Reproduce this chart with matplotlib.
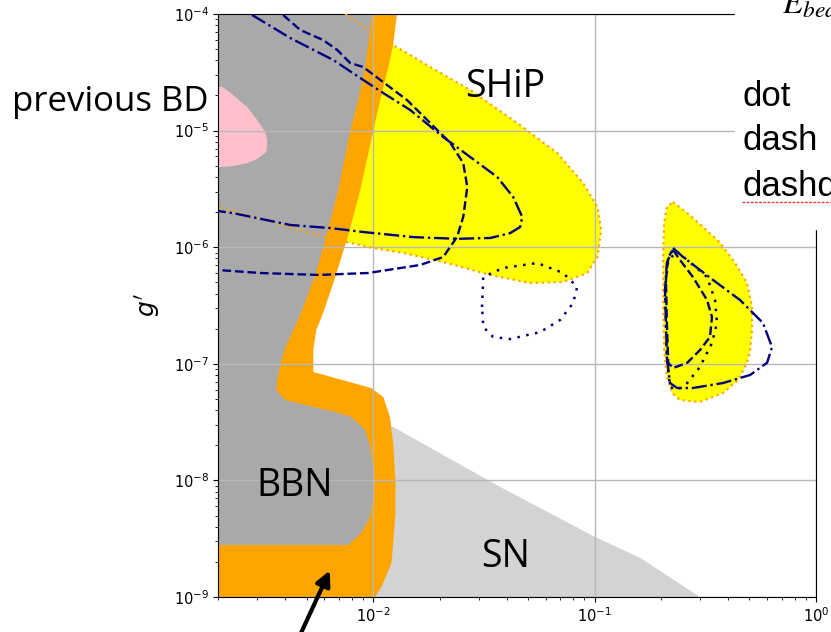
import matplotlib
matplotlib.use("Agg")
import matplotlib.pyplot as plt
from matplotlib.patches import Rectangle, FancyArrowPatch
from matplotlib.lines import Line2D

# axis ranges (mass in GeV, coupling g')
m_lim = (2e-3, 1.0)
g_lim = (1e-9, 1e-4)

# BBN: inner edge of the orange band (= edge of the grey region), top -> bottom
bbn_in_m = [9.90e-3, 9.20e-3, 8.56e-3, 7.87e-3, 6.95e-3, 6.07e-3, 5.47e-3, 4.68e-3,
            4.01e-3, 3.80e-3, 3.65e-3, 3.69e-3, 4.01e-3, 4.93e-3, 6.74e-3, 7.95e-3,
            9.20e-3, 9.69e-3, 1.00e-2, 1.00e-2, 9.69e-3, 8.83e-3, 7.71e-3]
bbn_in_g = [1e-4, 3.51e-5, 1.83e-5, 9.92e-6, 3.09e-6, 1.15e-6, 5.78e-7, 2.62e-7,
            1.39e-7, 9.77e-8, 6.58e-8, 5.73e-8, 4.89e-8, 4.43e-8, 3.86e-8, 3.50e-8,
            2.71e-8, 1.93e-8, 1.23e-8, 7.21e-9, 4.85e-9, 3.54e-9, 2.79e-9]

# BBN: outer edge of the orange band, top -> bottom
bbn_out_m = [1.28e-2, 1.23e-2, 1.17e-2, 1.076e-2, 1.00e-2, 8.74e-3, 7.71e-3, 6.74e-3,
             5.94e-3, 5.53e-3, 5.36e-3, 5.36e-3, 6.46e-3, 9.79e-3, 1.11e-2, 1.19e-2,
             1.23e-2, 1.26e-2, 1.26e-2, 1.21e-2, 1.09e-2, 1.02e-2]
bbn_out_g = [1e-4, 5.42e-5, 3.51e-5, 1.83e-5, 9.92e-6, 3.09e-6, 1.27e-6, 5.55e-7,
             2.73e-7, 1.95e-7, 1.31e-7, 8.51e-8, 7.71e-8, 6.20e-8, 5.19e-8, 3.50e-8,
             2.09e-8, 1.01e-8, 5.25e-9, 1.96e-9, 1.22e-9, 1e-9]

# supernova bound (upper edge)
sn_m = [1.076e-2, 1.23e-2, 3.75e-2, 1.005e-1, 1.61e-1, 2.99e-1, 1.0e-2]
sn_g = [3.10e-8, 2.87e-8, 8.78e-9, 3.27e-9, 2.16e-9, 1e-9, 1e-9]

# previous beam dump region
bd_m = [2e-3, 2.08e-3, 2.33e-3, 2.70e-3, 2.99e-3, 3.25e-3, 3.32e-3, 3.29e-3,
        2.99e-3, 2.70e-3, 2.33e-3, 2.04e-3, 2e-3]
bd_g = [2.37e-5, 2.37e-5, 2.02e-5, 1.59e-5, 1.23e-5, 9.73e-6, 8.31e-6, 6.55e-6,
        5.71e-6, 5.27e-6, 4.97e-6, 4.87e-6, 4.87e-6]

# SHiP sensitivity, main region (open edge, closes along the axes)
ship_m = [7.47e-3, 9.40e-3, 1.23e-2, 1.81e-2, 2.74e-2, 4.47e-2, 6.77e-2, 8.87e-2,
          1.03e-1, 1.07e-1, 1.03e-1, 9.25e-2, 7.21e-2, 5.11e-2, 3.38e-2, 2.16e-2,
          1.37e-2, 1.00e-2, 7.87e-3, 6.07e-3, 2e-3]
ship_g = [1e-4, 7.44e-5, 5.42e-5, 3.51e-5, 2.23e-5, 1.16e-5, 6.43e-6, 3.55e-6,
          2.21e-6, 1.40e-6, 8.24e-7, 6.01e-7, 5.03e-7, 4.93e-7, 5.78e-7, 7.32e-7,
          8.92e-7, 9.84e-7, 1.09e-6, 1.22e-6, 2.21e-6]

# SHiP sensitivity, heavy island
isl_m = [2.26e-1, 2.62e-1, 3.09e-1, 3.69e-1, 4.31e-1, 4.88e-1, 5.14e-1, 5.14e-1,
         5.04e-1, 4.88e-1, 4.45e-1, 3.80e-1, 2.99e-1, 2.43e-1, 2.24e-1, 2.12e-1,
         2.06e-1, 2.04e-1, 2.04e-1, 2.06e-1, 2.12e-1, 2.26e-1]
isl_g = [2.44e-6, 1.96e-6, 1.49e-6, 1.09e-6, 7.32e-7, 4.93e-7, 3.07e-7, 1.95e-7,
         1.31e-7, 1.02e-7, 7.26e-8, 5.62e-8, 4.70e-8, 4.89e-8, 5.62e-8, 7.71e-8,
         1.31e-7, 3.07e-7, 8.24e-7, 1.61e-6, 2.21e-6, 2.44e-6]

# beam energy curves (dashdot / dash / dot)
dd_m = [2.84e-3, 4.22e-3, 6.60e-3, 9.01e-3, 1.11e-2, 1.47e-2, 2.07e-2, 2.74e-2,
        3.63e-2, 4.29e-2, 4.71e-2, 4.61e-2, 4.15e-2, 3.38e-2, 2.39e-2, 1.52e-2,
        9.01e-3, 6.39e-3, 4.22e-3, 2.33e-3, 2e-3]
dd_g = [9.80e-5, 6.22e-5, 4.03e-5, 2.72e-5, 2.10e-5, 1.50e-5, 8.81e-6, 5.94e-6,
        4.00e-6, 2.69e-6, 1.82e-6, 1.49e-6, 1.32e-6, 1.20e-6, 1.18e-6, 1.22e-6,
        1.35e-6, 1.46e-6, 1.55e-6, 1.96e-6, 2.04e-6]

da_m = [3.92e-3, 4.68e-3, 5.94e-3, 6.88e-3, 7.87e-3, 9.01e-3, 1.076e-2, 1.42e-2,
        1.81e-2, 2.23e-2, 2.55e-2, 2.66e-2, 2.55e-2, 2.39e-2, 2.07e-2, 1.63e-2,
        9.49e-3, 5.65e-3, 3.09e-3, 2e-3]
da_g = [9.80e-5, 7.29e-5, 5.98e-5, 4.91e-5, 3.80e-5, 3.51e-5, 2.72e-5, 1.83e-5,
        1.16e-5, 7.83e-6, 5.27e-6, 3.28e-6, 1.82e-6, 1.22e-6, 8.24e-7, 7.04e-7,
        6.01e-7, 5.78e-7, 6.01e-7, 6.37e-7]

do_m = [3.10e-2, 3.14e-2, 3.86e-2, 5.50e-2, 7.21e-2, 8.34e-2, 8.00e-2, 6.99e-2,
        5.68e-2, 4.15e-2, 3.48e-2, 3.14e-2, 3.10e-2]
do_g = [3.07e-7, 5.55e-7, 6.63e-7, 7.32e-7, 6.01e-7, 4.56e-7, 3.32e-7, 2.38e-7,
        1.87e-7, 1.63e-7, 1.70e-7, 2.07e-7, 3.07e-7]

# same three curves around the heavy island
dd2_m = [2.26e-1, 2.51e-1, 3.43e-1, 4.54e-1, 5.76e-1, 6.33e-1, 6.01e-1, 5.04e-1,
         3.80e-1, 2.78e-1, 2.36e-1, 2.19e-1, 2.12e-1, 2.08e-1, 2.12e-1, 2.26e-1]
dd2_g = [9.84e-7, 8.24e-7, 5.23e-7, 3.52e-7, 2.24e-7, 1.39e-7, 1.02e-7, 8.02e-8,
         6.84e-8, 6.20e-8, 6.20e-8, 6.84e-8, 1.14e-7, 4.30e-7, 7.32e-7, 9.84e-7]

da2_m = [2.26e-1, 2.43e-1, 2.78e-1, 3.22e-1, 3.39e-1, 3.32e-1, 2.99e-1, 2.62e-1,
         2.26e-1, 2.15e-1, 2.12e-1, 2.10e-1, 2.15e-1, 2.26e-1]
da2_g = [9.46e-7, 7.77e-7, 5.55e-7, 3.52e-7, 2.52e-7, 1.70e-7, 1.31e-7, 1.02e-7,
         9.20e-8, 1.02e-7, 2.24e-7, 5.23e-7, 8.24e-7, 9.46e-7]

do2_m = [2.36e-1, 2.62e-1, 3.22e-1, 3.50e-1, 3.57e-1, 3.39e-1, 2.99e-1, 2.62e-1,
         2.36e-1, 2.19e-1, 2.12e-1, 2.08e-1, 2.15e-1, 2.36e-1]
do2_g = [9.10e-7, 7.77e-7, 5.55e-7, 3.52e-7, 2.24e-7, 1.51e-7, 9.39e-8, 6.84e-8,
         5.96e-8, 6.33e-8, 1.14e-7, 4.30e-7, 7.77e-7, 9.10e-7]

W, H = 831, 632
fig = plt.figure(figsize=(W / 100, H / 100), dpi=100)
ax = fig.add_axes([218.5 / W, 35 / H, 597.5 / W, 583 / H])
ax.set_xscale("log")
ax.set_yscale("log")

ax.fill(sn_m, sn_g, color="lightgray", lw=0, zorder=0.5)
ax.fill(ship_m + [2e-3], ship_g + [1e-4], color="yellow", lw=0, zorder=0.8)
ax.fill(isl_m, isl_g, color="yellow", lw=0, zorder=0.8)
ax.fill([2e-3] + bbn_out_m + [2e-3], [1e-4] + bbn_out_g + [1e-9],
        color="orange", lw=0, zorder=1)
ax.fill([2e-3] + bbn_in_m + [2e-3], [1e-4] + bbn_in_g + [bbn_in_g[-1]],
        color="darkgray", lw=0, zorder=1.1)
ax.fill(bd_m, bd_g, color="pink", lw=0, zorder=1.2)

ax.plot(ship_m, ship_g, ls=":", color="orange", lw=1.6, zorder=2.6)
ax.plot(isl_m, isl_g, ls=":", color="orange", lw=1.6, zorder=2.6)

navy = "#000080"
ax.plot(dd_m, dd_g, ls="-.", color=navy, lw=1.7, zorder=3)
ax.plot(da_m, da_g, ls="--", color=navy, lw=1.7, zorder=3)
ax.plot(do_m, do_g, ls=(0, (1, 2.6)), color=navy, lw=1.8, zorder=3)
ax.plot(dd2_m, dd2_g, ls="-.", color=navy, lw=1.7, zorder=3)
ax.plot(da2_m, da2_g, ls="--", color=navy, lw=1.7, zorder=3)
ax.plot(do2_m, do2_g, ls=(0, (1, 2.6)), color=navy, lw=1.8, zorder=3)

ax.set_xlim(*m_lim)
ax.set_ylim(*g_lim)
ax.set_axisbelow("line")
ax.grid(True, which="major", color="#b8b8b8", lw=1.0)
ax.tick_params(labelsize=10.5)
ax.set_ylabel(r"$g'$", fontsize=18, labelpad=8)

# slide overlay: text box in the upper right corner
fig.add_artist(Rectangle((735 / W, 1 - 229 / H), 96 / W, 229 / H,
                         transform=fig.transFigure, color="white", zorder=5))

slide_font = "Open Sans"
fig.text(12 / W, 1 - 111 / H, "previous BD", fontsize=25, family=slide_font,
         ha="left", va="baseline", zorder=-1)
fig.text(505 / W, 1 - 97 / H, "SHiP", fontsize=27, family=slide_font,
         ha="center", va="baseline", zorder=6)
fig.text(295 / W, 1 - 496 / H, "BBN", fontsize=27, family=slide_font,
         ha="center", va="baseline", zorder=6)
fig.text(506 / W, 1 - 567 / H, "SN", fontsize=27, family=slide_font,
         ha="center", va="baseline", zorder=6)

for label, base in [("dot", 106), ("dash", 150), ("dashdot", 196)]:
    fig.text(742 / W, 1 - base / H, label, fontsize=25, family="Liberation Sans",
             ha="left", va="baseline", zorder=6)
fig.add_artist(Line2D([742 / W, 1.0], [1 - 202 / H, 1 - 202 / H],
                      transform=fig.transFigure, color="#e03c3c", lw=1.0,
                      ls=(0, (2, 1)), zorder=6))
fig.text(782 / W, 1 - 13 / H, r"$E_{beam}$", fontsize=24, math_fontfamily="stix",
         ha="left", va="baseline", zorder=6)

fig.add_artist(FancyArrowPatch((300 / W, -0.005), (331 / W, 1 - 568 / H),
                               transform=fig.transFigure, arrowstyle="-|>",
                               mutation_scale=22, lw=3, color="black", zorder=6))

fig.savefig("out.png", dpi=100)
